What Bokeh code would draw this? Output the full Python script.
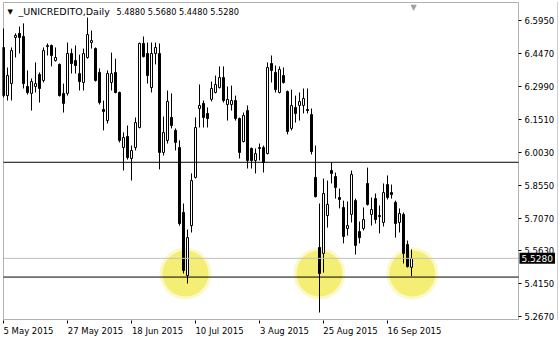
import pandas as pd
from bokeh.plotting import figure
from bokeh.models import (Span, Label, FixedTicker, PrintfTickFormatter, Range1d,
                          ColumnDataSource, BoxAnnotation)
from bokeh.embed import file_html
from bokeh.resources import INLINE

# ---------------- data ----------------
symbol = "_UNICREDITO,Daily"
dates = pd.bdate_range("2015-05-05", "2015-09-24")

open_ = [6.474, 6.258, 6.312, 6.519, 6.537, 6.523, 6.299, 6.268, 6.299, 6.353,
         6.326, 6.478, 6.483, 6.415, 6.398, 6.268, 6.268, 6.447, 6.415, 6.357,
         6.317, 6.429, 6.496, 6.469, 6.362, 6.196, 6.146, 6.317, 6.362, 6.272,
         6.025, 6.075, 5.976, 6.025, 6.115, 6.492, 6.447, 6.294, 6.447, 6.447,
         6.003, 6.057, 6.160, 6.102, 6.025, 5.734, 5.451, 5.675, 5.891, 6.200,
         6.223, 6.178, 6.241, 6.272, 6.294, 6.339, 6.218, 6.218, 6.236, 6.155,
         6.052, 6.191, 6.021, 5.967, 6.025, 6.025, 5.998, 6.402, 6.362, 6.272,
         6.348, 6.276, 6.111, 6.205, 6.214, 6.214, 6.196, 6.173, 5.891, 5.577,
         5.550, 5.720, 5.922, 5.895, 5.801, 5.756, 5.662, 5.725, 5.787, 5.648,
         5.662, 5.864, 5.725, 5.796, 5.720, 5.689, 5.859, 5.823, 5.779, 5.689,
         5.725, 5.590, 5.488]
high = [6.559, 6.384, 6.474, 6.537, 6.568, 6.582, 6.371, 6.335, 6.407, 6.362,
        6.474, 6.492, 6.487, 6.474, 6.402, 6.312, 6.496, 6.469, 6.483, 6.442,
        6.469, 6.608, 6.550, 6.474, 6.380, 6.236, 6.371, 6.451, 6.424, 6.276,
        6.093, 6.124, 6.034, 6.160, 6.496, 6.523, 6.496, 6.496, 6.496, 6.492,
        6.164, 6.281, 6.268, 6.111, 6.057, 5.774, 5.657, 5.909, 6.160, 6.308,
        6.236, 6.205, 6.321, 6.348, 6.389, 6.389, 6.299, 6.303, 6.258, 6.160,
        6.182, 6.214, 6.025, 6.021, 6.043, 6.034, 6.407, 6.438, 6.393, 6.389,
        6.384, 6.281, 6.285, 6.258, 6.272, 6.290, 6.290, 6.200, 6.034, 5.774,
        5.886, 5.877, 5.958, 5.913, 5.841, 5.787, 5.783, 5.922, 5.796, 5.693,
        5.756, 5.935, 5.801, 5.819, 5.765, 5.864, 5.900, 5.859, 5.787, 5.752,
        5.734, 5.608, 5.568]
low = [6.250, 6.236, 6.236, 6.429, 6.447, 6.290, 6.263, 6.191, 6.272, 6.227,
       6.317, 6.438, 6.389, 6.411, 6.254, 6.182, 6.258, 6.357, 6.357, 6.281,
       6.281, 6.424, 6.469, 6.321, 6.218, 6.102, 6.133, 6.281, 6.268, 6.048,
       5.922, 5.971, 5.877, 6.012, 6.111, 6.429, 6.312, 6.272, 6.398, 5.927,
       5.989, 6.043, 6.111, 6.012, 5.675, 5.460, 5.415, 5.644, 5.886, 6.115,
       6.115, 6.115, 6.232, 6.268, 6.290, 6.227, 6.146, 6.191, 6.146, 5.976,
       6.048, 5.931, 5.931, 5.909, 5.967, 5.913, 5.994, 6.317, 6.272, 6.268,
       6.312, 6.084, 6.102, 6.137, 6.146, 6.178, 6.178, 5.994, 5.801, 5.285,
       5.464, 5.666, 5.864, 5.796, 5.752, 5.595, 5.630, 5.689, 5.545, 5.595,
       5.653, 5.765, 5.675, 5.684, 5.640, 5.671, 5.792, 5.796, 5.621, 5.644,
       5.505, 5.487, 5.448]
close = [6.258, 6.348, 6.460, 6.528, 6.519, 6.312, 6.272, 6.321, 6.312, 6.290,
         6.460, 6.483, 6.438, 6.429, 6.258, 6.223, 6.447, 6.402, 6.393, 6.321,
         6.447, 6.532, 6.505, 6.326, 6.227, 6.187, 6.357, 6.357, 6.272, 6.057,
         6.070, 5.980, 6.012, 6.137, 6.492, 6.433, 6.348, 6.447, 6.474, 6.003,
         6.093, 6.232, 6.124, 6.048, 5.684, 5.474, 5.621, 5.877, 6.115, 6.214,
         6.160, 6.155, 6.290, 6.308, 6.339, 6.236, 6.241, 6.236, 6.155, 6.003,
         6.169, 5.967, 5.967, 5.998, 6.021, 5.958, 6.384, 6.371, 6.285, 6.375,
         6.317, 6.097, 6.214, 6.178, 6.232, 6.245, 6.191, 6.007, 5.805, 5.460,
         5.819, 5.770, 5.909, 5.846, 5.792, 5.626, 5.675, 5.904, 5.586, 5.621,
         5.702, 5.770, 5.747, 5.702, 5.716, 5.823, 5.801, 5.814, 5.684, 5.729,
         5.550, 5.491, 5.528]

price_ticks = [6.5950, 6.4470, 6.2990, 6.1510, 6.0030, 5.8550, 5.7070, 5.5630, 5.4150, 5.2670]
date_tick_labels = ["5 May 2015", "27 May 2015", "18 Jun 2015", "10 Jul 2015",
                    "3 Aug 2015", "25 Aug 2015", "16 Sep 2015"]
level_lines = [5.959, 5.444]
highlight_x = [45.5, 79.0, 102.2]
highlight_y = [5.460, 5.460, 5.460]

# ---------------- layout constants ----------------
FONT = "DejaVu Sans"
FS_PX = 8.5
FS = f"{FS_PX}px"
PX_PER_BAR = 4.0
W, H = 559, 338
ML, MT, MB = 2, 1, 18                 # frame margins (frame extends to the right edge)
FRAME_W, FRAME_H = W - ML, H - MT - MB
X0 = -0.25                            # frame left in bar units
X1 = X0 + FRAME_W / PX_PER_BAR
CHART_X_LEFT, CHART_X_RIGHT = 0.0, 128.75     # visible chart window (bar units)
CHART_Y_LO, CHART_Y_HI = 5.2537, 6.6757        # visible chart window (price)
PX_PRICE = (CHART_Y_HI - CHART_Y_LO) / (FRAME_H - 2)
Y0, Y1 = CHART_Y_LO - PX_PRICE, CHART_Y_HI + PX_PRICE

n = len(close)
idx = list(range(n))
bull = [c >= o for o, c in zip(open_, close)]
src = ColumnDataSource(dict(
    x=idx, o=open_, h=high, l=low, c=close,
    top=[max(o, c) for o, c in zip(open_, close)],
    bot=[min(o, c) for o, c in zip(open_, close)],
    fill=["white" if b else "black" for b in bull],
))

p = figure(width=W, height=H, toolbar_location=None, output_backend="svg",
           x_range=Range1d(X0, X1), y_range=Range1d(Y0, Y1),
           y_axis_location="right",
           min_border_left=ML, min_border_right=0, min_border_top=MT, min_border_bottom=MB)
p.background_fill_color = "white"
p.border_fill_color = "white"
p.outline_line_color = None
p.grid.visible = False

# highlight circles (soft edge)
p.scatter(highlight_x, highlight_y, size=52, fill_color="#f7f28a", fill_alpha=0.45, line_color=None)
p.scatter(highlight_x, highlight_y, size=46, fill_color="#f5ee74", line_color=None)

# candles
p.segment(x0="x", y0="l", x1="x", y1="h", source=src, line_color="black", line_width=1)
p.vbar(x="x", top="top", bottom="bot", width=0.5, source=src,
       fill_color="fill", line_color="black", line_width=1)

# horizontal level lines and bid line (inside the chart window)
p.segment(x0=[CHART_X_LEFT] * len(level_lines), x1=[CHART_X_RIGHT] * len(level_lines),
          y0=level_lines, y1=level_lines, line_color="black", line_width=1)
p.segment(x0=[CHART_X_LEFT], x1=[CHART_X_RIGHT], y0=[close[-1]], y1=[close[-1]],
          line_color="#c0c0c0", line_width=1)

# chart border
p.add_layout(BoxAnnotation(left=CHART_X_LEFT, right=CHART_X_RIGHT,
                           bottom=CHART_Y_LO, top=CHART_Y_HI,
                           fill_alpha=0, line_color="black", line_width=1))
# window edge line
p.add_layout(Span(location=X1 - 0.5, dimension="height", line_color="#cfcfcf", line_width=1))

# y axis (right), drawn at the chart's right border
ya = p.yaxis[0]
ya.fixed_location = CHART_X_RIGHT
ya.ticker = FixedTicker(ticks=price_ticks)
ya.formatter = PrintfTickFormatter(format="%.4f")
ya.major_tick_out = 3
ya.major_tick_in = 0
ya.minor_tick_out = 0
ya.minor_tick_in = 0
ya.axis_line_color = None
ya.major_label_standoff = 3
ya.major_label_text_font = FONT
ya.major_label_text_font_size = FS
ya.major_label_text_color = "black"

# x axis: tick marks at the dates (minor ticks), labels left-aligned from the tick
tick_idx = [int(dates.get_loc(pd.Timestamp(d))) for d in date_tick_labels]
CW = {"0": .636, "1": .636, "2": .636, "3": .636, "4": .636, "5": .636, "6": .636,
      "7": .636, "8": .636, "9": .636, " ": .318, "M": .863, "a": .613, "y": .592,
      "J": .295, "u": .634, "n": .634, "l": .278, "A": .684, "g": .635, "S": .635,
      "e": .615, "p": .635}
def text_w(s):
    return sum(CW.get(ch, .6) for ch in s) * FS_PX
centers = [ti + round(text_w(t) / 2) / PX_PER_BAR for ti, t in zip(tick_idx, date_tick_labels)]
xa = p.xaxis[0]
xa.ticker = FixedTicker(ticks=centers, minor_ticks=tick_idx)
xa.major_label_overrides = {c: t for c, t in zip(centers, date_tick_labels)}
xa.major_tick_out = 0
xa.major_tick_in = 0
xa.minor_tick_out = 3
xa.minor_tick_in = 0
xa.minor_tick_line_color = "black"
xa.axis_line_color = None
xa.major_label_standoff = 2
xa.major_label_text_font = FONT
xa.major_label_text_font_size = FS
xa.major_label_text_color = "black"

# title
p.add_layout(Label(x=5, y=309, x_units="screen", y_units="screen", text="\u25bc",
                   text_align="left", text_baseline="middle",
                   text_font=FONT, text_font_size="7px", text_color="black"))
p.add_layout(Label(x=16, y=309, x_units="screen", y_units="screen", text=symbol,
                   text_align="left", text_baseline="middle",
                   text_font=FONT, text_font_size="9.5px", text_color="black"))
ohlc_txt = " ".join(f"{v:.4f}" for v in (open_[-1], high[-1], low[-1], close[-1]))
p.add_layout(Label(x=114, y=309, x_units="screen", y_units="screen", text=ohlc_txt,
                   text_align="left", text_baseline="middle",
                   text_font=FONT, text_font_size="8.2px", text_color="black"))

# chart shift marker
p.add_layout(Label(x=408, y=FRAME_H - 1, x_units="screen", y_units="screen", text="\u25bc",
                   text_align="left", text_baseline="top",
                   text_font=FONT, text_font_size="8px", text_color="#a0a0a0"))

# current price box
p.add_layout(Label(x=CHART_X_RIGHT + 0.25, y=close[-1], x_units="data", y_units="data",
                   text=f"{close[-1]:.4f}", text_align="left", text_baseline="middle",
                   text_font=FONT, text_font_size="9px", text_color="white",
                   background_fill_color="black", padding=2))

open("out.html", "w").write(file_html(p, INLINE))
